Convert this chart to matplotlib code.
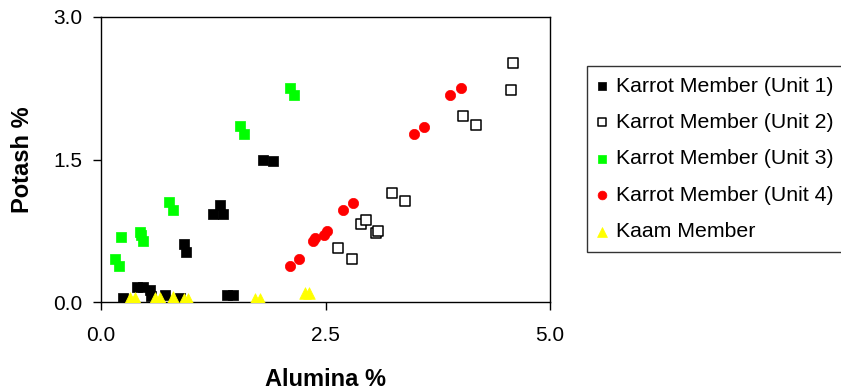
import matplotlib
matplotlib.use("Agg")
import matplotlib.pyplot as plt

plt.rcParams['font.family'] = ['Liberation Sans', 'DejaVu Sans']

# Alumina % (x) and Potash % (y) for each unit
unit1_x = [1.25, 1.33, 1.36, 1.80, 1.92, 0.92, 0.95, 0.25, 0.40, 0.47, 0.55, 0.56, 0.71, 0.88, 1.40, 1.47]
unit1_y = [0.93, 1.02, 0.93, 1.50, 1.48, 0.61, 0.53, 0.04, 0.16, 0.16, 0.13, 0.06, 0.07, 0.04, 0.07, 0.07]

unit2_x = [2.64, 2.79, 2.90, 2.95, 3.06, 3.08, 3.24, 3.39, 4.03, 4.18, 4.57, 4.59]
unit2_y = [0.57, 0.45, 0.82, 0.86, 0.73, 0.75, 1.15, 1.06, 1.96, 1.86, 2.23, 2.52]

unit3_x = [0.16, 0.20, 0.22, 0.43, 0.44, 0.47, 0.76, 0.80, 1.55, 1.59, 2.11, 2.15]
unit3_y = [0.45, 0.38, 0.68, 0.74, 0.71, 0.64, 1.05, 0.97, 1.85, 1.77, 2.25, 2.18]

unit4_x = [2.10, 2.21, 2.36, 2.38, 2.48, 2.52, 2.69, 2.81, 3.49, 3.60, 3.89, 4.01]
unit4_y = [0.38, 0.45, 0.64, 0.67, 0.71, 0.75, 0.97, 1.04, 1.77, 1.84, 2.18, 2.25]

kaam_x = [0.32, 0.38, 0.60, 0.66, 0.80, 0.92, 0.97, 1.71, 1.77, 2.27, 2.32]
kaam_y = [0.04, 0.04, 0.04, 0.04, 0.05, 0.03, 0.03, 0.03, 0.03, 0.09, 0.09]

labels = ["Karrot Member (Unit 1)", "Karrot Member (Unit 2)", "Karrot Member (Unit 3)",
          "Karrot Member (Unit 4)", "Kaam Member"]

x_ticks = [0.0, 2.5, 5.0]
y_ticks = [0.0, 1.5, 3.0]

fig = plt.figure(figsize=(8.41, 3.92), dpi=100)
ax = fig.add_axes([101 / 841, 90 / 392, 449 / 841, 285 / 392])

ax.scatter(unit1_x, unit1_y, marker='s', s=52, c='black', edgecolors='black', linewidths=0.5,
           label=labels[0], zorder=3)
ax.scatter(unit2_x, unit2_y, marker='s', s=42, c='white', edgecolors='black', linewidths=1.1,
           label=labels[1], zorder=3)
ax.scatter(unit3_x, unit3_y, marker='s', s=52, c='#00ff00', edgecolors='#00ff00', linewidths=0.5,
           label=labels[2], zorder=3)
ax.scatter(unit4_x, unit4_y, marker='o', s=55, c='#ff0000', edgecolors='#ff0000', linewidths=0.5,
           label=labels[3], zorder=3)
ax.scatter(kaam_x, kaam_y, marker='^', s=70, c='#ffff00', edgecolors='#ffff00', linewidths=0.5,
           label=labels[4], zorder=4)

ax.set_xlim(0, 5)
ax.set_ylim(0, 3)
ax.set_xticks(x_ticks)
ax.set_yticks(y_ticks)
ax.set_xticklabels([f"{v:.1f}" for v in x_ticks])
ax.set_yticklabels([f"{v:.1f}" for v in y_ticks])
ax.tick_params(axis='x', direction='out', length=5.5, width=1, pad=12, labelsize=15)
ax.tick_params(axis='y', direction='out', length=5.5, width=1, pad=8, labelsize=15)
for sp in ax.spines.values():
    sp.set_linewidth(1.0)
    sp.set_color('black')

ax.set_xlabel("Alumina %", fontsize=17, fontweight='bold', va='center')
ax.xaxis.set_label_coords(0.5, -(379 - 302) / 285)
ax.set_ylabel("Potash %", fontsize=17, fontweight='bold', va='center')
ax.yaxis.set_label_coords(-(101 - 23) / 449, 0.5)

leg = fig.legend(loc='upper left', bbox_to_anchor=(587 / 841, (392 - 66) / 392),
                 bbox_transform=fig.transFigure, fontsize=15.3, frameon=True, fancybox=False,
                 markerscale=0.85, handletextpad=0.4, handlelength=0.45, labelspacing=0.82,
                 borderpad=0.5, borderaxespad=0)
leg.get_frame().set_edgecolor('black')
leg.get_frame().set_linewidth(1.0)

fig.savefig("out.png", dpi=100)
